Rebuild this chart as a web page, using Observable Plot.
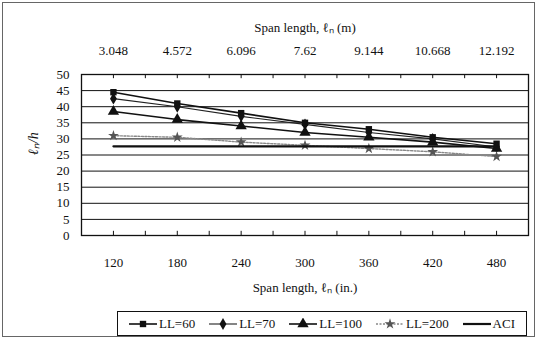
<!DOCTYPE html>
<html><head><meta charset="utf-8">
<script src="https://cdn.jsdelivr.net/npm/d3@7"></script>
<script src="https://cdn.jsdelivr.net/npm/@observablehq/plot@0.6"></script>
<style>
body{margin:0;background:#fff;font-family:"Liberation Serif",serif;}
#wrap{position:relative;width:540px;height:340px;overflow:hidden;}
#border{position:absolute;left:2px;top:2px;width:533px;height:335px;border:1px solid #666;box-sizing:border-box;}
#chart{position:absolute;left:0;top:0;}
#legend{position:absolute;left:117px;top:311px;width:410px;height:25px;box-sizing:border-box;border:1.5px solid #111;display:flex;align-items:center;justify-content:space-around;font-size:13px;color:#111;padding:0 4px;}
.item{display:flex;align-items:center;gap:2px;white-space:nowrap;}
</style></head><body>
<div id="wrap"><div id="border"></div><div id="chart"></div><div id="legend"></div></div>
<script>
// ---- data ----
const spanIn = [120, 180, 240, 300, 360, 420, 480];
const spanM = ["3.048", "4.572", "6.096", "7.62", "9.144", "10.668", "12.192"];
const ll60  = [44.5, 41.0, 38.0, 35.0, 33.0, 30.5, 28.5];
const ll70  = [42.5, 40.0, 37.0, 34.5, 32.0, 30.0, 27.5];
const ll100 = [38.5, 36.0, 34.0, 32.0, 30.5, 29.0, 27.0];
const ll200 = [31.0, 30.5, 29.0, 28.0, 27.0, 26.0, 24.5];
const aci   = [27.7, 27.7, 27.7, 27.7, 27.7, 27.7, 27.7];
const seriesNames = ["LL=60", "LL=70", "LL=100", "LL=200", "ACI"];
const yTicks = [0, 5, 10, 15, 20, 25, 30, 35, 40, 45, 50];
const minorTicks = [120, 150, 180, 210, 240, 270, 300, 330, 360, 390, 420, 450, 480];

const styles = {
  "LL=60":  {stroke: "#111", width: 1.6, symbol: "square", r: 3.6, fill: "#111"},
  "LL=70":  {stroke: "#222", width: 1.1, symbol: "diamond", r: 3.6, fill: "#111"},
  "LL=100": {stroke: "#111", width: 1.6, symbol: "triangle", r: 4.2, fill: "#111"},
  "LL=200": {stroke: "#888", width: 1.4, dash: "2,1.5", symbol: "star", r: 3.4, fill: "#555"},
  "ACI":    {stroke: "#111", width: 2.2, symbol: null}
};
const values = [ll60, ll70, ll100, ll200, aci];
const rows = [];
seriesNames.forEach((s, k) => spanIn.forEach((x, i) => rows.push({series: s, span: x, v: values[k][i]})));

const font = "Liberation Serif, serif";
const marks = [
  Plot.ruleY(yTicks.filter(d => d > 0 && d < 50), {stroke: "#111", strokeWidth: 1}),
  Plot.frame({stroke: "#111", strokeWidth: 1.3}),
  Plot.ruleX(minorTicks, {y1: 0, y2: 1.3, stroke: "#111"}),
  Plot.ruleX(minorTicks, {y1: 50, y2: 48.7, stroke: "#111"})
];
seriesNames.forEach(s => {
  const st = styles[s];
  const d = rows.filter(r => r.series === s);
  marks.push(Plot.line(d, {x: "span", y: "v", stroke: st.stroke, strokeWidth: st.width, strokeDasharray: st.dash}));
  if (st.symbol) marks.push(Plot.dot(d, {x: "span", y: "v", symbol: st.symbol, r: st.r, fill: st.fill, stroke: "none"}));
});
marks.push(
  Plot.axisY({ticks: yTicks, tickSize: 0, tickPadding: 12, label: null, fontSize: 13}),
  Plot.axisX({anchor: "bottom", ticks: spanIn, tickSize: 0, tickPadding: 22, label: null, fontSize: 13}),
  Plot.axisX({anchor: "top", ticks: spanIn, tickFormat: d => spanM[spanIn.indexOf(d)], tickSize: 0, tickPadding: 20, label: null, fontSize: 13}),
  Plot.text(["Span length, ℓₙ (m)"], {frameAnchor: "top", dy: -52, fontSize: 13}),
  Plot.text(["Span length, ℓₙ (in.)"], {frameAnchor: "bottom", dy: 56, fontSize: 13}),
  Plot.text(["ℓₙ/h"], {frameAnchor: "left", dx: -48, rotate: -90, fontSize: 14, fontStyle: "italic"})
);

const chart = Plot.plot({
  width: 540, height: 310,
  marginLeft: 81, marginRight: 12, marginTop: 74, marginBottom: 75,
  style: {fontFamily: font, fontSize: "13px", color: "#111", background: "transparent"},
  x: {type: "linear", domain: [90, 510]},
  y: {domain: [0, 50]},
  marks
});
document.getElementById("chart").appendChild(chart);

// legend
const leg = document.getElementById("legend");
const symMap = {square: d3.symbolSquare, diamond: d3.symbolDiamond, triangle: d3.symbolTriangle, star: d3.symbolStar};
seriesNames.forEach(s => {
  const st = styles[s];
  const item = document.createElement("div");
  item.className = "item";
  let svg = `<svg width="28" height="12"><line x1="0" x2="28" y1="6" y2="6" stroke="${st.stroke}" stroke-width="${st.width}"${st.dash ? ` stroke-dasharray="${st.dash}"` : ""}/>`;
  if (st.symbol) {
    const area = Math.PI * st.r * st.r;
    svg += `<path transform="translate(14,6)" d="${d3.symbol(symMap[st.symbol], area)()}" fill="${st.fill}"/>`;
  }
  svg += `</svg>`;
  item.innerHTML = svg + `<span>${s}</span>`;
  leg.appendChild(item);
});
</script>
</body></html>
